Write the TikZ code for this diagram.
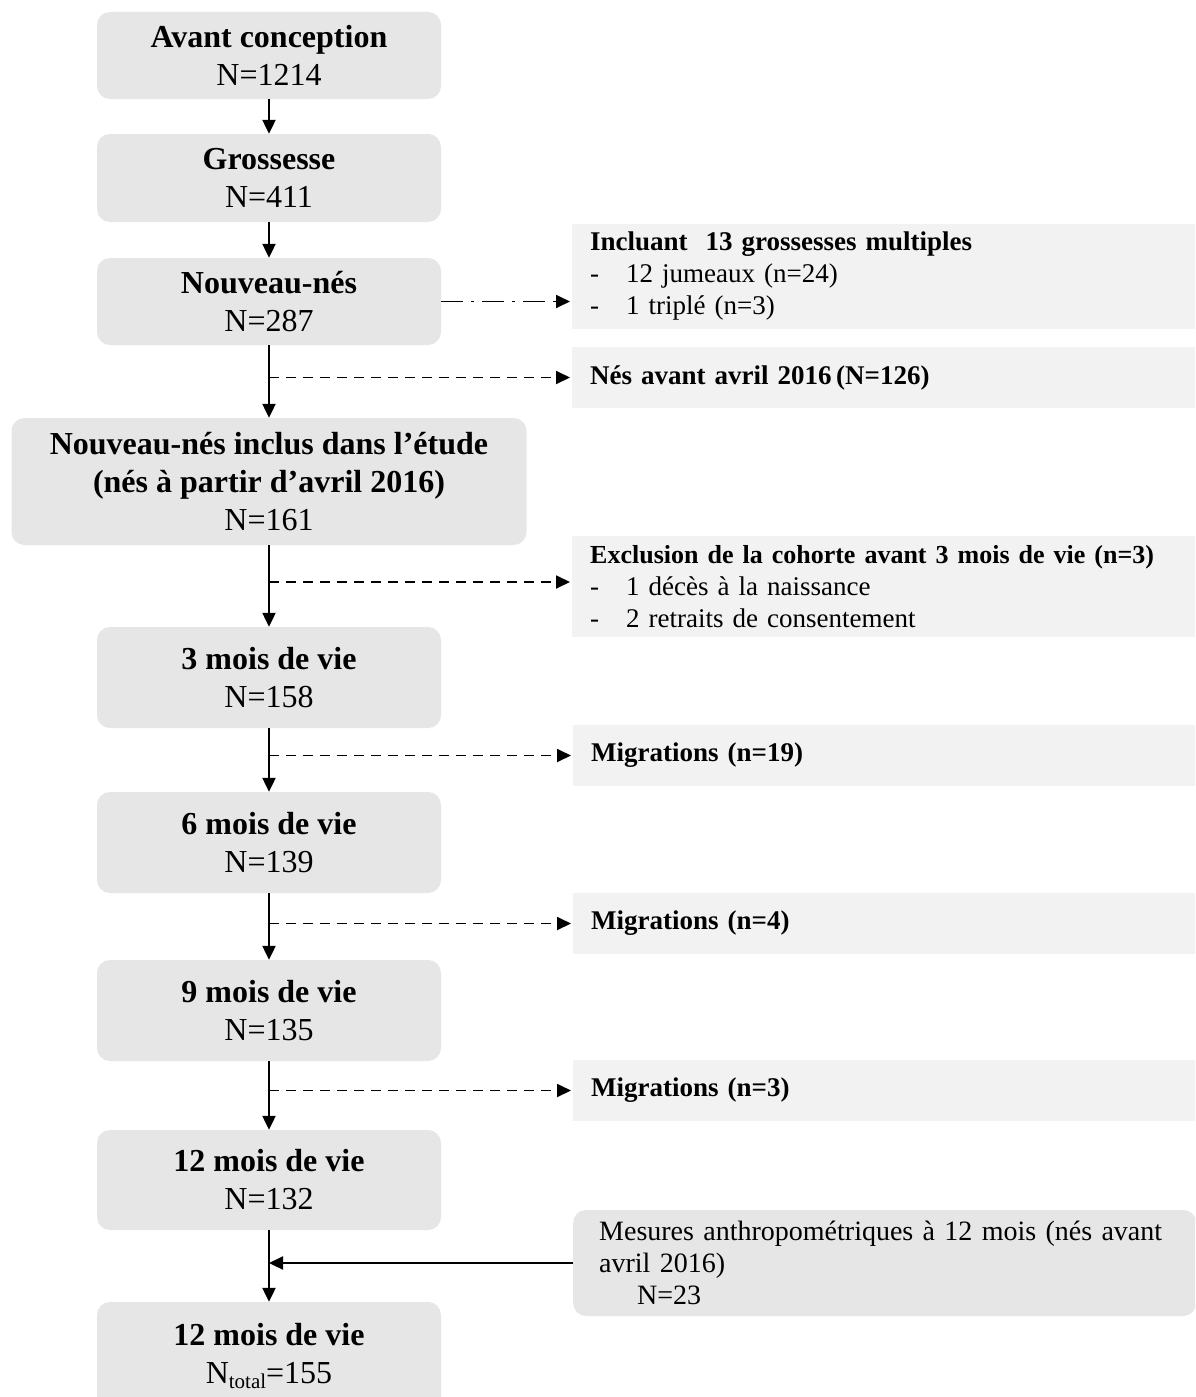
\documentclass[tikz,border=0pt]{standalone}
\usepackage{fontspec}
\setmainfont{Liberation Serif}
\usetikzlibrary{arrows.meta}
\definecolor{boxgray}{HTML}{E7E6E6}
\definecolor{sidegray}{HTML}{F2F2F2}
\tikzset{
  mainbox/.style={fill=boxgray, draw=none, rounded corners=13pt, minimum width=344pt, align=center, inner sep=0pt,
    font=\fontsize{32}{38}\selectfont},
  sidebox/.style={fill=sidegray, draw=none, anchor=west, text width=587pt, inner xsep=18pt, inner ysep=0pt, align=left,
    font=\fontsize{27}{32}\selectfont},
  flow/.style={line width=2.2pt, -{Triangle[length=14pt,width=13pt]}},
  sideflow/.style={line width=1.8pt, dash pattern=on 10pt off 7pt, -{Triangle[length=14pt,width=13pt]}, shorten >=2pt},
  dashdotflow/.style={line width=1.8pt, dash pattern=on 22pt off 8pt on 3pt off 8pt, -{Triangle[length=14pt,width=13pt]}, shorten >=2pt},
}
\begin{document}
\begin{tikzpicture}[x=1pt,y=-1pt]
\clip (0,0) rectangle (1195,1397);
\fill[white] (0,0) rectangle (1195,1397);
% left column
\node[mainbox, minimum height=87pt] (b1) at (269,55.5) {\textbf{Avant conception}\\N=1214};
\node[mainbox, minimum height=88pt] (b2) at (269,178) {\textbf{Grossesse}\\N=411};
\node[mainbox, minimum height=87pt] (b3) at (269,301.5) {\textbf{Nouveau-nés}\\N=287};
\node[mainbox, minimum height=127pt, minimum width=515pt] (b4) at (269,481.5) {\textbf{Nouveau-nés inclus dans l’étude}\\\textbf{(nés à partir d’avril 2016)}\\N=161};
\node[mainbox, minimum height=101pt] (b5) at (269,677.5) {\textbf{3 mois de vie}\\N=158};
\node[mainbox, minimum height=101pt] (b6) at (269,842.5) {\textbf{6 mois de vie}\\N=139};
\node[mainbox, minimum height=101pt] (b7) at (269,1010.5) {\textbf{9 mois de vie}\\N=135};
\node[mainbox, minimum height=100pt] (b8) at (269,1180) {\textbf{12 mois de vie}\\N=132};
\node[mainbox, minimum height=108pt] (b9) at (269,1356) {\textbf{12 mois de vie}\\N\raisebox{-0.35ex}{\fontsize{21}{21}\selectfont total}=155};
% right column
\node[sidebox, minimum height=105pt] (ra) at (572,276.5) {\textbf{Incluant\ \ 13 grossesses multiples}\\\makebox[36pt][l]{-}12 jumeaux (n=24)\\\makebox[36pt][l]{-}1 triplé (n=3)};
\node[sidebox, minimum height=61pt] (rb) at (572,377.5) {\textbf{Nés avant avril 2016\,(N=126)}};
\node[sidebox, minimum height=101pt] (rc) at (572,586.5) {{\fontsize{26}{32}\selectfont\textbf{Exclusion de la cohorte avant 3 mois de vie (n=3)}}\\\makebox[36pt][l]{-}1 décès à la naissance\\\makebox[36pt][l]{-}2 retraits de consentement};
\node[sidebox, minimum height=61pt] (rd) at (573,755.5) {\textbf{Migrations\hspace{9pt}(n=19)}};
\node[sidebox, minimum height=61pt] (re) at (573,923.5) {\textbf{Migrations\hspace{9pt}(n=4)}};
\node[sidebox, minimum height=61pt] (rf) at (573,1090.5) {\textbf{Migrations\hspace{9pt}(n=3)}};
\node[sidebox, fill=boxgray, rounded corners=13pt, minimum height=106pt, text width=571pt, inner xsep=26pt,
  font=\fontsize{28}{32}\selectfont] (rg) at (573,1263) {Mesures anthropométriques à 12 mois (nés avant\\avril 2016)\\\hspace*{38pt}N=23};
% main flow
\draw[flow] (b1.south) -- (b2.north);
\draw[flow] (b2.south) -- (b3.north);
\draw[flow] (b3.south) -- (b4.north);
\draw[flow] (b4.south) -- (b5.north);
\draw[flow] (b5.south) -- (b6.north);
\draw[flow] (b6.south) -- (b7.north);
\draw[flow] (b7.south) -- (b8.north);
\draw[flow] (b8.south) -- (b9.north);
% side flows
\draw[dashdotflow] (b3.east) -- (ra.west |- b3.east);
\draw[sideflow] (b3.south |- rb.west) -- (rb.west);
\draw[sideflow] (b4.south |- 0,582) -- (rc.west |- 0,582);
\draw[sideflow] (b5.south |- rd.west) -- (rd.west);
\draw[sideflow] (b6.south |- re.west) -- (re.west);
\draw[sideflow] (b7.south |- rf.west) -- (rf.west);
\draw[flow] (rg.west) -- (b8.south |- rg.west);
\end{tikzpicture}
\end{document}
